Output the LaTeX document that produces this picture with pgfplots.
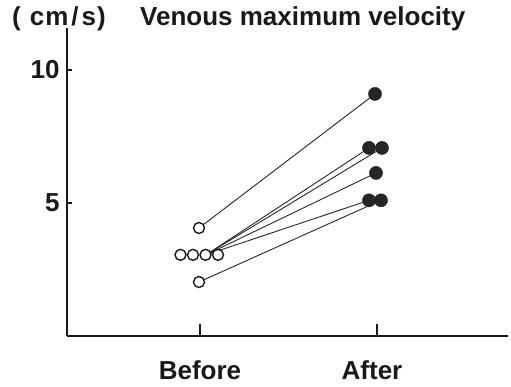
\documentclass[border=0pt]{standalone}
\usepackage{pgfplots}
\pgfplotsset{compat=1.18}
\usepackage{fontspec}
\setmainfont{Liberation Sans}
\begin{document}
\begin{tikzpicture}
\begin{axis}[
 scale only axis, width=441pt, height=308pt,
 xmin=67, xmax=508, ymin=0, ymax=11.58,
 axis lines=left, axis line style={-, line width=1.3pt, color=black!90},
 xtick={200,377}, xticklabels={Before,{After\hspace*{10pt}}},
 ytick={5,10},
 tick align=inside,
 xtick style={/pgfplots/major tick length=12pt, line width=1.2pt, color=black!90},
 ytick style={/pgfplots/major tick length=5pt, line width=1.2pt, color=black!90},
 ticklabel style={font=\fontsize{26}{26}\selectfont\bfseries, text=black!90},
 /pgf/number format/assume math mode=true,
 xticklabel style={anchor=base, yshift=-44pt},
 yticklabel style={xshift=-4pt},
 clip=false,
]
% connecting lines
\addplot[black!85, line width=0.9pt] coordinates {(199,4.06) (375,9.1)};
\addplot[black!85, line width=0.9pt] coordinates {(206,3.05) (369,7.07)};
\addplot[black!85, line width=0.9pt] coordinates {(206,3.05) (382,7.07)};
\addplot[black!85, line width=0.9pt] coordinates {(206,3.05) (376,6.13)};
\addplot[black!85, line width=0.9pt] coordinates {(206,3.05) (369,5.10)};
\addplot[black!85, line width=0.9pt] coordinates {(199,2.03) (381,5.10)};
% before (open circles)
\addplot[only marks, mark=*, mark size=5.5pt, mark options={fill=white, draw=black!90, line width=1.4pt}]
 coordinates {(199,4.06) (180.5,3.05) (193,3.05) (205.5,3.05) (218,3.05) (199,2.03)};
% after (filled dots)
\addplot[only marks, mark=*, mark size=6.6pt, mark options={fill=black!85, draw=black!85}]
 coordinates {(375,9.10) (369,7.07) (382,7.07) (376,6.13) (369,5.10) (381,5.10)};
% title
\node[anchor=base west, inner sep=0pt, font=\fontsize{26}{26}\selectfont\bfseries, text=black!90] at (axis cs:12,11.69) {(\kern9pt c\kern1pt m\kern3pt/\kern3pt s\kern1pt)};
\node[anchor=base west, inner sep=0pt, font=\fontsize{26}{26}\selectfont\bfseries, text=black!90] at (axis cs:140,11.69) {Venous maximum velocity};
\coordinate (TL) at (axis cs:0,12.632);
\coordinate (BR) at (axis cs:511,-1.917);
\end{axis}
\pgfresetboundingbox
\useasboundingbox (TL) rectangle (BR);
\end{tikzpicture}
\end{document}
